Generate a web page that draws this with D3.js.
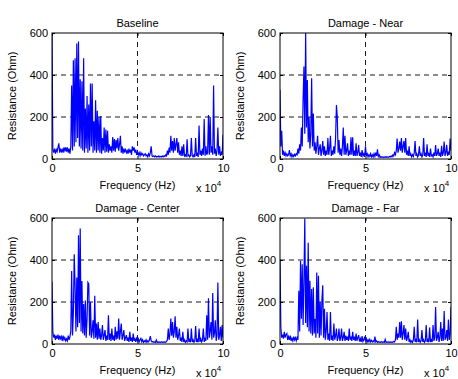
<!DOCTYPE html>
<html>
<head>
<meta charset="utf-8">
<script src="https://cdn.jsdelivr.net/npm/d3@7"></script>
<style>
  html, body { margin: 0; padding: 0; background: #fff; }
  svg { display: block; font-family: "Liberation Sans", Arial, sans-serif; }
</style>
</head>
<body>
<div id="chart"></div>
<script>
// Frequency grid: 0 .. 100 kHz, one sample every 0.5 kHz (x-axis shown as x 10^4 Hz)
const FREQ_STEP = 500;
const titles = ['Baseline', 'Damage - Near', 'Damage - Center', 'Damage - Far'];
const xTicks = [0, 50000, 100000];
const xTickLabels = ['0', '5', '10'];
const yTicks = [0, 200, 400, 600];

const baseline = [
  600, 45, 30, 50, 25, 45, 35, 55, 75, 30, 50, 35, 45, 30, 55, 40, 55, 35, 55, 30,
  50, 25, 60, 350, 40, 470, 60, 480, 80, 550, 100, 560, 60, 380, 50, 370, 40, 480, 30, 240,
  50, 300, 30, 260, 40, 360, 60, 360, 30, 180, 40, 280, 30, 230, 40, 200, 30, 205, 25, 100,
  40, 150, 30, 140, 35, 135, 30, 70, 40, 60, 30, 105, 40, 95, 35, 90, 50, 100, 40, 70,
  110, 30, 60, 25, 50, 35, 45, 30, 40, 25, 50, 30, 45, 20, 60, 40, 55, 30, 45, 20,
  35, 20, 30, 15, 30, 20, 25, 15, 20, 25, 15, 20, 10, 25, 15, 30, 60, 15, 12, 15,
  10, 15, 10, 12, 10, 15, 10, 12, 10, 15, 10, 15, 12, 20, 15, 40, 20, 55, 30, 110,
  40, 85, 30, 100, 40, 70, 100, 30, 80, 20, 40, 15, 60, 15, 70, 15, 20, 10, 94, 15,
  20, 10, 15, 100, 15, 10, 20, 10, 100, 15, 25, 10, 160, 20, 40, 15, 50, 20, 190, 15,
  60, 20, 30, 210, 20, 200, 30, 60, 20, 350, 25, 50, 15, 40, 150, 20, 60, 15, 30, 20,
  115
];

const near = [
  330, 60, 135, 20, 40, 15, 30, 15, 25, 15, 20, 42, 15, 25, 10, 20, 12, 22, 15, 25,
  20, 50, 25, 70, 40, 150, 60, 280, 440, 120, 600, 150, 376, 80, 200, 50, 120, 384, 60, 217,
  40, 80, 25, 60, 110, 20, 50, 70, 15, 40, 86, 20, 60, 15, 40, 20, 100, 20, 50, 110,
  15, 40, 20, 60, 25, 100, 257, 200, 30, 90, 20, 50, 15, 60, 150, 20, 110, 20, 40, 75,
  15, 40, 20, 103, 20, 103, 15, 40, 15, 75, 15, 30, 67, 15, 30, 10, 43, 15, 25, 10,
  60, 15, 25, 10, 20, 12, 25, 10, 20, 10, 25, 12, 30, 15, 46, 12, 20, 8, 12, 8,
  10, 8, 10, 8, 12, 8, 10, 8, 12, 10, 15, 10, 20, 15, 30, 20, 40, 98, 30, 50,
  83, 40, 100, 30, 60, 86, 30, 100, 20, 40, 15, 60, 15, 25, 10, 20, 12, 30, 86, 15,
  25, 10, 20, 60, 15, 25, 10, 20, 100, 15, 25, 10, 70, 15, 25, 10, 50, 15, 20, 10,
  30, 15, 67, 15, 25, 50, 15, 30, 10, 63, 15, 30, 83, 15, 30, 67, 15, 30, 20, 98,
  40
];

const center = [
  297, 55, 30, 45, 20, 40, 25, 45, 20, 40, 25, 35, 15, 40, 20, 30, 15, 25, 15, 40,
  20, 35, 60, 348, 40, 150, 427, 278, 60, 317, 80, 518, 100, 550, 60, 300, 50, 190, 40, 207,
  30, 120, 293, 286, 40, 200, 30, 60, 113, 25, 230, 30, 97, 20, 105, 25, 74, 20, 40, 90,
  20, 40, 66, 15, 40, 20, 137, 20, 50, 15, 74, 20, 40, 15, 82, 20, 60, 25, 121, 20,
  60, 97, 20, 40, 66, 15, 30, 42, 15, 30, 10, 58, 15, 30, 10, 50, 15, 25, 10, 27,
  15, 25, 10, 20, 27, 10, 20, 8, 15, 10, 20, 8, 15, 10, 20, 38, 15, 10, 12, 8,
  10, 8, 19, 8, 10, 8, 10, 8, 10, 8, 10, 8, 10, 8, 12, 20, 74, 20, 50, 121,
  40, 105, 30, 60, 132, 30, 82, 20, 40, 74, 15, 30, 10, 58, 10, 20, 8, 15, 10, 74,
  10, 20, 8, 74, 10, 20, 8, 15, 85, 10, 20, 8, 74, 10, 25, 10, 20, 74, 10, 25,
  15, 137, 20, 218, 30, 60, 105, 20, 243, 30, 50, 113, 15, 40, 293, 20, 40, 82, 15, 90,
  30
];

const far = [
  403, 80, 30, 45, 25, 58, 30, 45, 50, 20, 35, 20, 40, 15, 27, 15, 35, 20, 30, 15,
  30, 20, 254, 60, 396, 120, 380, 90, 300, 597, 100, 372, 80, 482, 60, 301, 50, 262, 40, 270,
  50, 120, 30, 340, 50, 325, 30, 200, 40, 207, 280, 30, 168, 20, 60, 152, 20, 50, 15, 152,
  20, 40, 15, 97, 20, 40, 74, 15, 30, 74, 15, 30, 74, 15, 30, 58, 15, 40, 20, 35,
  15, 74, 20, 35, 15, 58, 20, 30, 15, 50, 15, 30, 42, 12, 25, 10, 38, 12, 20, 35,
  12, 25, 10, 20, 10, 22, 10, 18, 10, 15, 10, 35, 10, 15, 8, 12, 8, 10, 8, 12,
  8, 10, 8, 22, 8, 10, 8, 10, 8, 10, 8, 10, 8, 12, 10, 20, 82, 20, 50, 30,
  105, 30, 108, 20, 50, 90, 20, 74, 15, 30, 58, 10, 20, 8, 15, 8, 20, 82, 10, 20,
  8, 116, 10, 20, 8, 15, 66, 10, 20, 8, 15, 90, 10, 20, 8, 79, 10, 20, 10, 90,
  15, 30, 176, 15, 30, 58, 10, 30, 105, 15, 74, 15, 157, 20, 30, 66, 15, 116, 20, 50,
  176
];

const seriesList = [baseline, near, center, far];

const W = 458, H = 379;
const panelW = 171, panelH = 126;
const panelOrigins = [
  { x: 52, y: 33 }, { x: 280, y: 33 },
  { x: 52, y: 218 }, { x: 280, y: 218 }
];

const svg = d3.select('#chart').append('svg')
  .attr('width', W)
  .attr('height', H);

const x = d3.scaleLinear().domain([0, 100000]).range([0, panelW]);
const y = d3.scaleLinear().domain([0, 600]).range([panelH, 0]);

const line = d3.line()
  .x((d, i) => x(i * FREQ_STEP))
  .y(d => y(d));

seriesList.forEach((values, k) => {
  const o = panelOrigins[k];
  const g = svg.append('g').attr('transform', `translate(${o.x},${o.y})`);

  // clip
  g.append('clipPath').attr('id', `clip${k}`)
    .append('rect').attr('width', panelW).attr('height', panelH);

  // grid (MATLAB-style dashed)
  const grid = g.append('g').attr('stroke', '#000').attr('stroke-width', 0.9)
    .attr('stroke-dasharray', '5,4');
  grid.selectAll('line.h').data(yTicks.slice(1, -1)).enter().append('line')
    .attr('x1', 0).attr('x2', panelW)
    .attr('y1', d => y(d)).attr('y2', d => y(d));
  grid.selectAll('line.v').data(xTicks.slice(1, -1)).enter().append('line')
    .attr('y1', 0).attr('y2', panelH)
    .attr('x1', d => x(d)).attr('x2', d => x(d));

  // data
  g.append('path')
    .datum(values)
    .attr('clip-path', `url(#clip${k})`)
    .attr('fill', 'none')
    .attr('stroke', '#0000ff')
    .attr('stroke-width', 1.2)
    .attr('d', line);

  // axes
  const yAxis = g.append('g')
    .call(d3.axisLeft(y).tickValues(yTicks).tickSize(-3).tickPadding(4));
  const yAxisR = g.append('g').attr('transform', `translate(${panelW},0)`)
    .call(d3.axisRight(y).tickValues(yTicks).tickSize(-3).tickFormat(''));
  const xAxis = g.append('g').attr('transform', `translate(0,${panelH})`)
    .call(d3.axisBottom(x).tickValues(xTicks).tickSize(-3).tickPadding(5)
      .tickFormat((d, i) => xTickLabels[i]));
  const xAxisT = g.append('g')
    .call(d3.axisTop(x).tickValues(xTicks).tickSize(-3).tickFormat(''));

  [yAxis, yAxisR, xAxis, xAxisT].forEach(a => {
    a.select('.domain').remove();
    a.selectAll('line').attr('stroke', '#000');
    a.selectAll('text').attr('fill', '#000')
      .style('font-family', '"Liberation Sans", Arial, sans-serif')
      .style('font-size', '11px');
  });

  // box
  g.append('rect')
    .attr('width', panelW).attr('height', panelH)
    .attr('fill', 'none').attr('stroke', '#000').attr('stroke-width', 1);

  // title
  g.append('text')
    .attr('x', panelW / 2).attr('y', -6)
    .attr('text-anchor', 'middle')
    .style('font-size', '11px')
    .text(titles[k]);

  // x label
  g.append('text')
    .attr('x', panelW / 2).attr('y', panelH + 30)
    .attr('text-anchor', 'middle')
    .style('font-size', '11px')
    .text('Frequency (Hz)');

  // exponent
  const ex = g.append('text')
    .attr('x', panelW - 27).attr('y', panelH + 33)
    .style('font-size', '11px');
  ex.append('tspan').text('x 10');
  ex.append('tspan').attr('dy', -6).style('font-size', '8px').text('4');

  // y label
  g.append('text')
    .attr('transform', `translate(-36,${panelH / 2}) rotate(-90)`)
    .attr('text-anchor', 'middle')
    .style('font-size', '11px')
    .text('Resistance (Ohm)');
});
</script>
</body>
</html>
